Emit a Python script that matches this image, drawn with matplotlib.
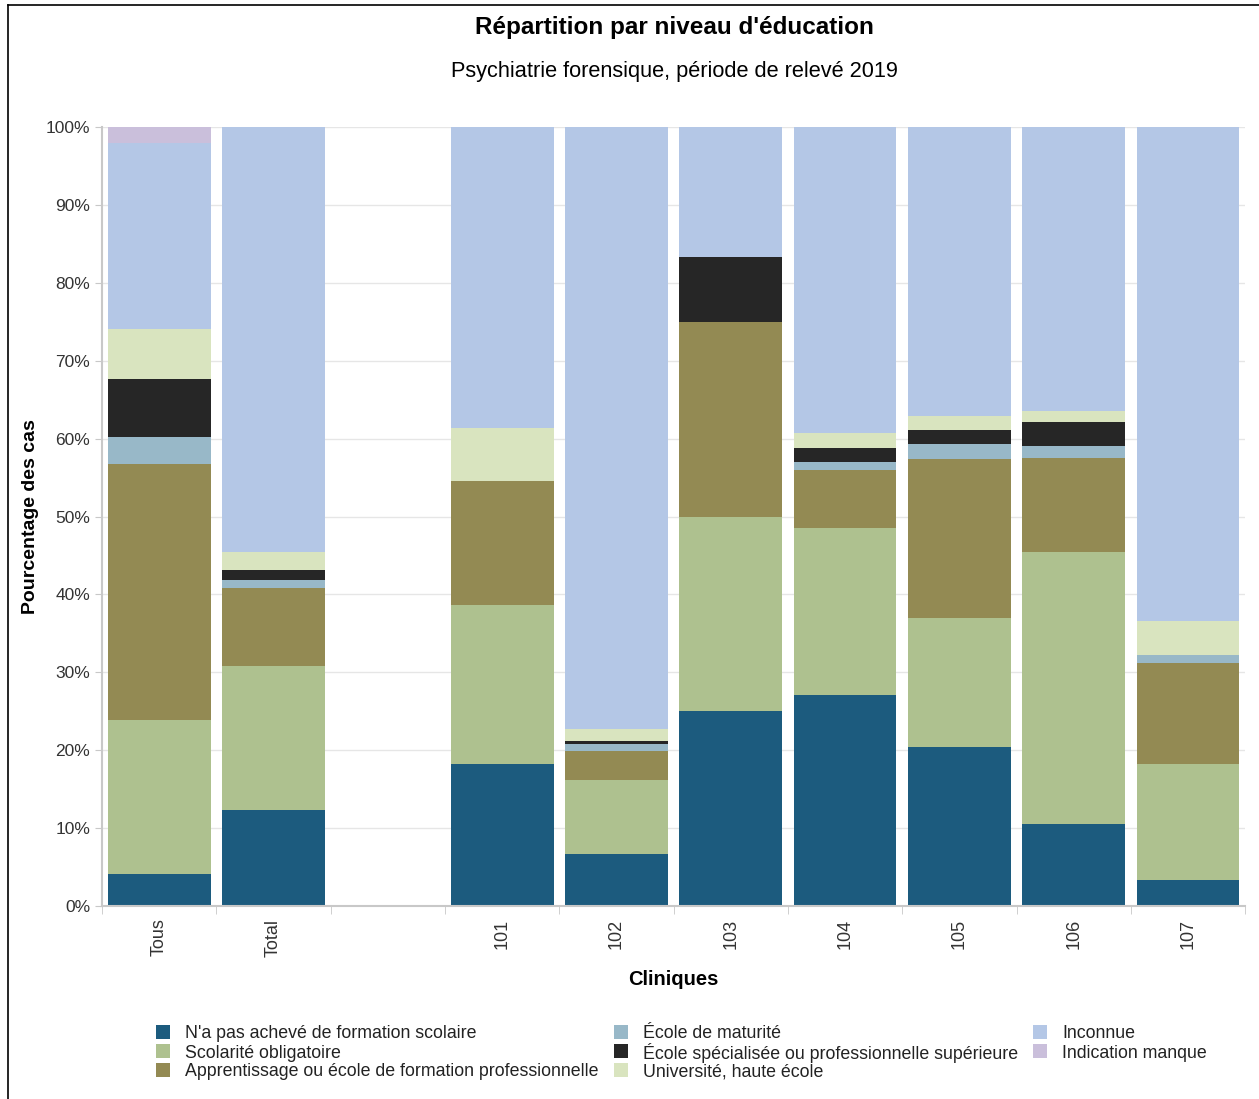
import matplotlib.pyplot as plt
from matplotlib.lines import Line2D
from matplotlib.patches import Rectangle
import numpy as np

plt.rcParams['font.family'] = ['Liberation Sans', 'DejaVu Sans']

categories = ["Tous", "Total", "", "101", "102", "103", "104", "105", "106", "107"]

series_names = [
    "N'a pas achevé de formation scolaire",
    "Scolarité obligatoire",
    "Apprentissage ou école de formation professionnelle",
    "École de maturité",
    "École spécialisée ou professionnelle supérieure",
    "Université, haute école",
    "Inconnue",
    "Indication manque",
]

# percent per category (empty slot = 0)
no_school = [4.1, 12.3, 0, 18.2, 6.7, 25.0, 27.1, 20.4, 10.5, 3.3]
obligatoire = [19.8, 18.5, 0, 20.4, 9.5, 25.0, 21.4, 16.6, 34.9, 14.9]
apprentissage = [32.8, 10.0, 0, 16.0, 3.7, 25.0, 7.5, 20.4, 12.1, 13.0]
maturite = [3.5, 1.0, 0, 0.0, 0.9, 0.0, 1.0, 1.9, 1.6, 1.0]
specialisee = [7.5, 1.3, 0, 0.0, 0.4, 8.3, 1.8, 1.8, 3.0, 0.0]
universite = [6.4, 2.3, 0, 6.8, 1.5, 0.0, 1.9, 1.8, 1.5, 4.4]
inconnue = [23.8, 54.6, 0, 38.6, 77.3, 16.7, 39.3, 37.1, 36.4, 63.4]
manque = [2.1, 0.0, 0, 0.0, 0.0, 0.0, 0.0, 0.0, 0.0, 0.0]

colors = ["#1c5b7e", "#aec18f", "#938a53", "#98b8c8", "#262626",
          "#d9e4bf", "#b4c7e6", "#cabfdb"]


def main():
    W, H = 1259, 1099
    fig = plt.figure(figsize=(W / 100, H / 100), dpi=100)
    ax = fig.add_axes([0.081, 0.1756, 0.908, 0.7088])

    data = [no_school, obligatoire, apprentissage, maturite,
            specialisee, universite, inconnue, manque]
    x = np.arange(len(categories))
    bottom = np.zeros(len(categories))
    for vals, col, name in zip(data, colors, series_names):
        vals = np.array(vals)
        ax.bar(x, vals, width=0.9, bottom=bottom, color=col, label=name,
               linewidth=0, zorder=2)
        bottom += vals

    ax.set_xlim(-0.5, len(categories) - 0.5)
    ax.set_ylim(0, 100)
    ax.set_yticks(np.arange(0, 101, 10))
    ax.set_yticklabels([f"{v}%" for v in range(0, 101, 10)])
    ax.set_xticks(x)
    ax.set_xticklabels(categories, rotation=90)
    ax.set_xticks(np.arange(-0.5, len(categories), 1), minor=True)
    ax.tick_params(axis="x", which="major", length=0, pad=9,
                   labelsize=13, labelcolor="#333333")
    ax.tick_params(axis="x", which="minor", length=6, color="#c8c8c8")
    ax.tick_params(axis="y", length=5, color="#c8c8c8",
                   labelsize=12.5, labelcolor="#333333")
    ax.grid(axis="y", color="#e6e6e6", linewidth=1, zorder=0)
    ax.set_axisbelow(True)
    for side in ["top", "right"]:
        ax.spines[side].set_visible(False)
    ax.spines["left"].set_color("#c8c8c8")
    ax.spines["bottom"].set_color("#c8c8c8")
    ax.spines["left"].set_linewidth(1.5)
    ax.spines["bottom"].set_linewidth(1.5)

    ax.set_ylabel("Pourcentage des cas", fontsize=14, fontweight="bold")
    ax.yaxis.set_label_coords(-0.055, 0.5)
    ax.set_xlabel("Cliniques", fontsize=14.5, fontweight="bold", labelpad=10)

    fig.text(0.536, 0.975, "Répartition par niveau d'éducation",
             ha="center", va="center", fontsize=17.5, fontweight="bold")
    fig.text(0.536, 0.935, "Psychiatrie forensique, période de relevé 2019",
             ha="center", va="center", fontsize=15.7)

    # legend, 3 columns filled top to bottom
    col_x = [156, 614, 1033]
    row_y = [1032, 1051, 1070]
    for i, (name, col) in enumerate(zip(series_names, colors)):
        cx = col_x[i // 3]
        cy = row_y[i % 3]
        fig.add_artist(Rectangle((cx / W, 1 - (cy + 7) / H), 14 / W, 14 / H,
                                 facecolor=col, edgecolor="none",
                                 transform=fig.transFigure))
        fig.text((cx + 29) / W, 1 - cy / H, name, ha="left",
                 va="center_baseline", fontsize=12.8, color="#222222")

    # frame edges at left and top
    fig.add_artist(Line2D([0.0065, 0.0065], [0, 0.995], color="black",
                          linewidth=1.2, transform=fig.transFigure))
    fig.add_artist(Line2D([0.0065, 1], [0.995, 0.995], color="black",
                          linewidth=1.2, transform=fig.transFigure))

    fig.savefig("out.png", dpi=100)


if __name__ == "__main__":
    main()
